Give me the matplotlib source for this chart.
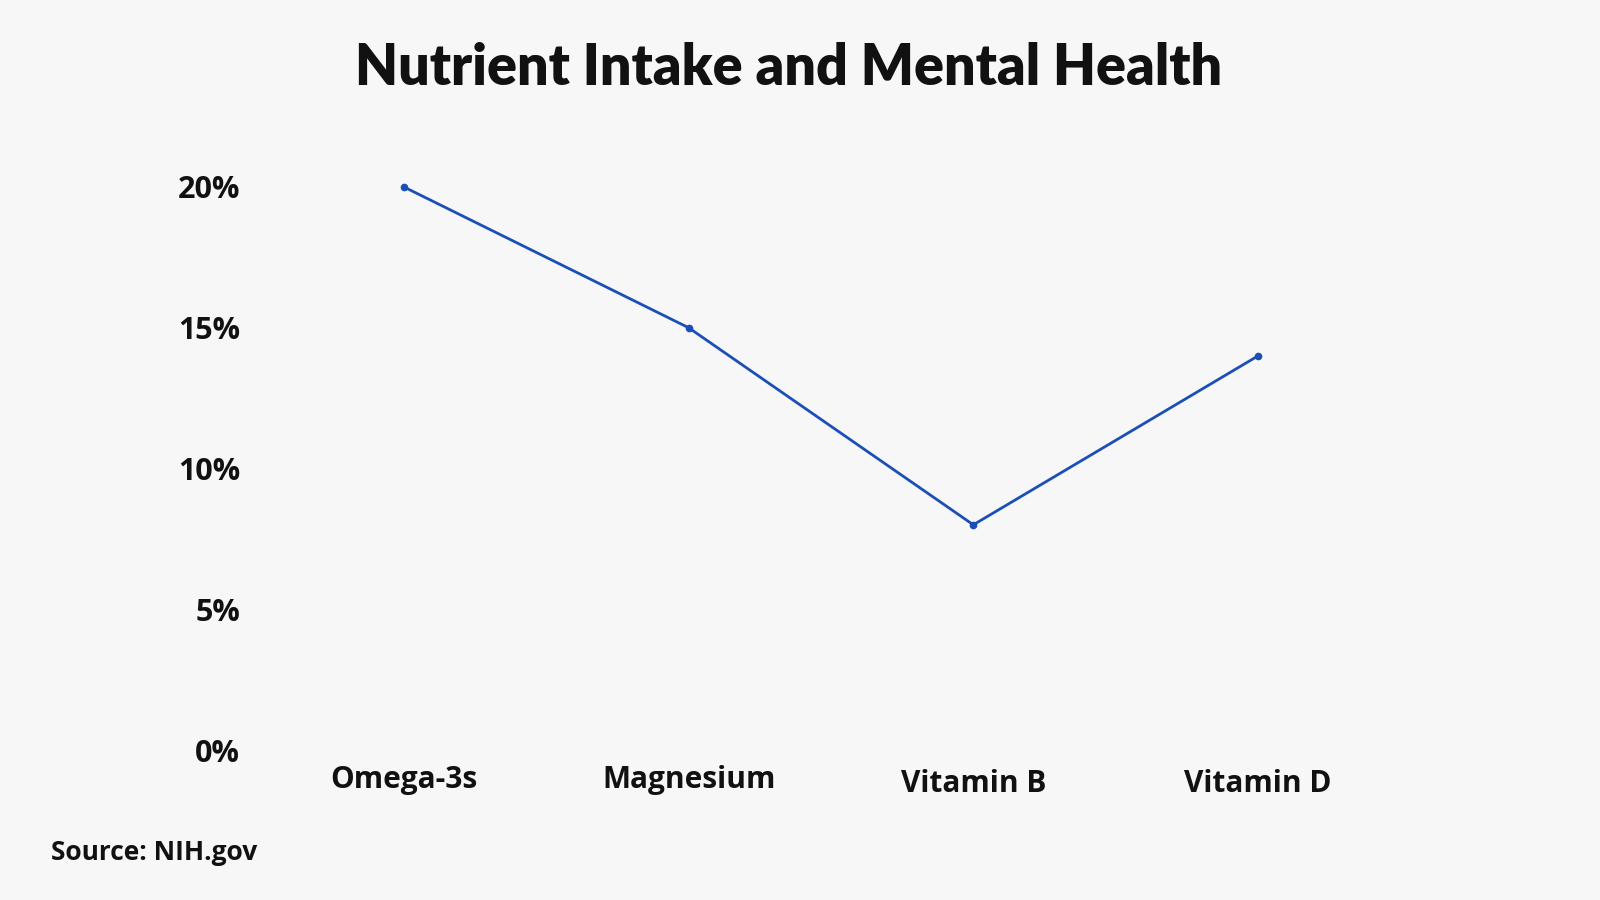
import matplotlib
matplotlib.use("Agg")
import matplotlib.pyplot as plt
from matplotlib.transforms import ScaledTranslation

categories = ["Omega-3s", "Magnesium", "Vitamin B", "Vitamin D"]
values = [20, 15, 8, 14]
yticks = [0, 5, 10, 15, 20]
ytick_labels = ["0%", "5%", "10%", "15%", "20%"]

BG = "#f7f7f7"
LINE = "#1a4fb8"
TXT = "#111111"

fig = plt.figure(figsize=(16, 9), dpi=100, facecolor=BG)
ax = fig.add_axes([404/1600, 150/900, (1258-404)/1600, (750-187)/900])
ax.set_facecolor(BG)
x = list(range(len(categories)))
ax.plot(x, values, color=LINE, lw=2.0, marker="o", ms=4.5, clip_on=False)
ax.set_xlim(0, 3)
ax.set_ylim(0, 20)
for s in ax.spines.values():
    s.set_visible(False)
ax.set_xticks(x)
ax.set_xticklabels(categories, fontsize=21.5, fontweight="bold", family="Open Sans", color=TXT)
ax.set_yticks(yticks)
ax.set_yticklabels(ytick_labels, fontsize=22, fontweight="bold", family="Open Sans", color=TXT)
ax.tick_params(axis="x", length=0, pad=11)
ax.tick_params(axis="y", length=0, pad=118)
# the last two category labels sit slightly lower in the reference
for lbl in ax.get_xticklabels()[2:]:
    lbl.set_transform(lbl.get_transform() + ScaledTranslation(0, -4/100, fig.dpi_scale_trans))

fig.text(789/1600, 1 - 68/900, "Nutrient Intake and Mental Health", ha="center", va="center",
         fontsize=40, fontweight="heavy", family="Lato", color=TXT)
fig.text(51/1600, 1 - 852/900, "Source: NIH.gov", ha="left", va="center",
         fontsize=19, fontweight="bold", family="Open Sans", color=TXT)

fig.savefig("out.png", dpi=100, facecolor=BG)
